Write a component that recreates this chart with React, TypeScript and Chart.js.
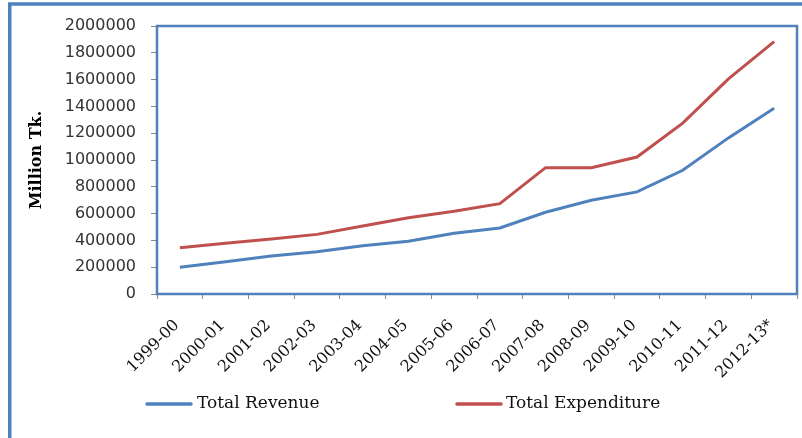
import { useEffect, useRef } from "react";
import { Chart, registerables } from "chart.js";

Chart.register(...registerables);

const categories = [
  "1999-00", "2000-01", "2001-02", "2002-03", "2003-04", "2004-05", "2005-06",
  "2006-07", "2007-08", "2008-09", "2009-10", "2010-11", "2011-12", "2012-13*",
];
const totalRevenue = [
  200000, 241000, 284000, 316000, 360000, 393000, 453000,
  493000, 610000, 699000, 762000, 923000, 1165000, 1386000,
];
const totalExpenditure = [
  345000, 378000, 410000, 445000, 507000, 569000, 617000,
  674000, 943000, 943000, 1022000, 1275000, 1605000, 1883000,
];
const yMin = 0;
const yMax = 2000000;
const yStep = 200000;

const BLUE = "#4F81BD";
const RED = "#C0504D";

const framePlugin = {
  id: "framePlugin",
  beforeDraw(chart: any) {
    const { ctx, width, height } = chart;
    ctx.save();
    ctx.fillStyle = "#ffffff";
    ctx.fillRect(0, 0, width, height);
    ctx.strokeStyle = BLUE;
    ctx.lineWidth = 3.5;
    ctx.strokeRect(9.75, 4, width + 50, height + 50);
    ctx.restore();
  },
  afterDraw(chart: any) {
    const { ctx, chartArea } = chart;
    ctx.save();
    ctx.strokeStyle = BLUE;
    ctx.lineWidth = 2.5;
    ctx.strokeRect(chartArea.left, chartArea.top, chartArea.right - chartArea.left, chartArea.bottom - chartArea.top);
    // legend
    const items = [
      { lineX: 147, textX: 197 },
      { lineX: 457, textX: 506 },
    ];
    const y = 404;
    ctx.font = "17px 'DejaVu Serif'";
    ctx.textBaseline = "middle";
    ctx.textAlign = "left";
    chart.data.datasets.forEach((ds: any, i: number) => {
      const it = items[i];
      ctx.strokeStyle = ds.borderColor;
      ctx.lineWidth = 3.5;
      ctx.lineCap = "round";
      ctx.beginPath();
      ctx.moveTo(it.lineX, y);
      ctx.lineTo(it.lineX + 44, y);
      ctx.stroke();
      ctx.fillStyle = "#111111";
      ctx.fillText(ds.label, it.textX, y);
    });
    ctx.restore();
  },
};

export default function App() {
  const ref = useRef<HTMLCanvasElement>(null);
  useEffect(() => {
    if (!ref.current) return;
    const chart = new Chart(ref.current, {
      type: "line",
      data: {
        labels: categories,
        datasets: [
          {
            label: "Total Revenue",
            data: totalRevenue,
            borderColor: BLUE,
            backgroundColor: BLUE,
            borderWidth: 3,
            pointRadius: 0,
            tension: 0,
            fill: false,
          },
          {
            label: "Total Expenditure",
            data: totalExpenditure,
            borderColor: RED,
            backgroundColor: RED,
            borderWidth: 3,
            pointRadius: 0,
            tension: 0,
            fill: false,
          },
        ],
      },
      options: {
        animation: false,
        responsive: false,
        maintainAspectRatio: false,
        layout: { padding: { left: 0, top: 26, right: 5, bottom: 0 } },
        plugins: {
          legend: { display: false },
          tooltip: { enabled: false },
          title: { display: false },
        },
        scales: {
          x: {
            type: "category",
            offset: true,
            border: { display: false },
            grid: { offset: true, drawOnChartArea: false, tickLength: 5, color: "#868686", lineWidth: 1 },
            ticks: {
              autoSkip: false,
              minRotation: 45,
              maxRotation: 45,
              padding: 17,
              labelOffset: -3,
              color: "#111111",
              font: { family: "'DejaVu Serif'", size: 16 },
            },
            afterFit(scale: any) {
              scale.height = 144;
              scale.paddingLeft = 0;
              scale.paddingRight = 0;
            },
          },
          y: {
            min: yMin,
            max: yMax,
            border: { display: false },
            grid: { drawOnChartArea: false, tickLength: 6, color: "#868686", lineWidth: 1 },
            ticks: {
              stepSize: yStep,
              padding: 15,
              color: "#333333",
              font: { family: "'DejaVu Sans'", size: 16 },
              callback: (v: any) => String(v),
            },
            title: {
              display: true,
              text: "Million Tk.",
              color: "#000000",
              font: { family: "'DejaVu Serif'", size: 16, weight: "bold" },
              padding: { top: 27, bottom: 0 },
            },
            afterFit(scale: any) {
              scale.width = 157;
            },
          },
        },
      },
      plugins: [framePlugin],
    });
    return () => chart.destroy();
  }, []);
  return (
    <div style={{ position: "fixed", left: 0, top: 0, width: 802, height: 438 }}>
      <canvas ref={ref} width={802} height={438} style={{ display: "block" }} />
    </div>
  );
}
